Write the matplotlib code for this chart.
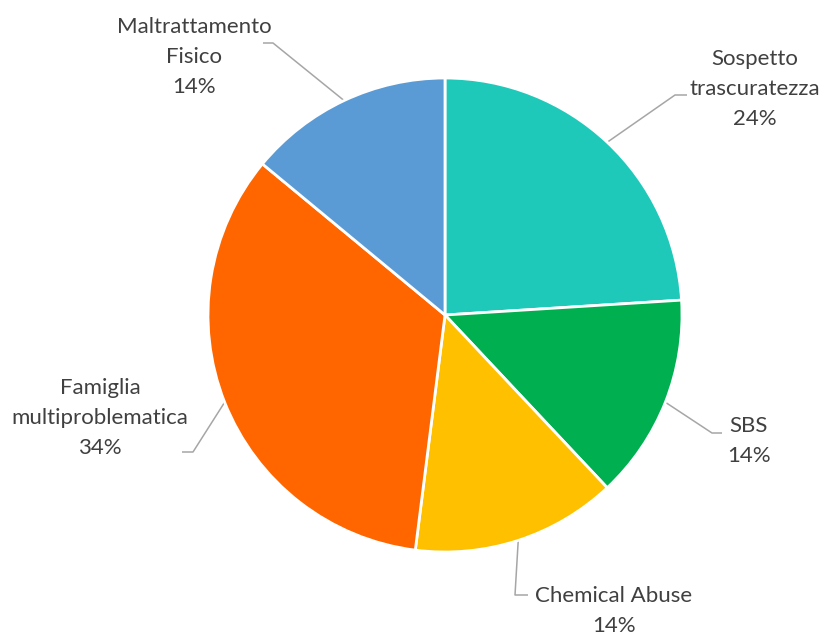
import numpy as np
import matplotlib.pyplot as plt

plt.rcParams['font.family'] = ['Lato', 'DejaVu Sans']

# Casi per tipologia (percentuali)
categorie = ['Sospetto\ntrascuratezza', 'SBS', 'Chemical Abuse',
             'Famiglia\nmultiproblematica', 'Maltrattamento\nFisico']
percentuali = [24, 14, 14, 34, 14]
colori = ['#1FC9BA', '#00B050', '#FFC000', '#FF6600', '#5B9BD5']

W, H = 825, 635
fig = plt.figure(figsize=(W / 100, H / 100), dpi=100)
ax = fig.add_axes([0, 0, 1, 1])

centro = (445, H - 315)
raggio = 237
wedges, _ = ax.pie(percentuali, colors=colori, startangle=90, counterclock=False,
                   center=centro, radius=raggio, frame=True,
                   wedgeprops=dict(edgecolor='white', linewidth=2))
ax.set_xlim(0, W)
ax.set_ylim(0, H)
ax.set_aspect('equal')
ax.axis('off')

# posizione etichetta (pixel dall'alto), gomito della linea, fine linea
layout = [
    dict(xy=(755, 89), gomito=(675, 95), fine=(687, 95), ha='center'),
    dict(xy=(727, 441), gomito=(712, 433), fine=(722, 433), ha='left'),
    dict(xy=(535, 611), gomito=(515, 595), fine=(528, 595), ha='left'),
    dict(xy=(100, 418), gomito=(193, 452), fine=(182, 452), ha='center'),
    dict(xy=(194, 57), gomito=(273, 43), fine=(263, 43), ha='center'),
]

for w, nome, p, lay in zip(wedges, categorie, percentuali, layout):
    ang = np.deg2rad((w.theta1 + w.theta2) / 2)
    x0 = centro[0] + raggio * np.cos(ang)
    y0 = centro[1] + raggio * np.sin(ang)
    gx, gy = lay['gomito']
    fx, fy = lay['fine']
    ax.plot([x0, gx, fx], [y0, H - gy, H - fy], color='#A6A6A6', lw=1.1,
            solid_capstyle='butt', zorder=0)
    tx, ty = lay['xy']
    ax.text(tx, H - ty, f'{nome}\n{p}%', ha=lay['ha'], va='center',
            multialignment='center', fontsize=16, color='#404040', linespacing=1.6)

fig.savefig('out.png', dpi=100)
